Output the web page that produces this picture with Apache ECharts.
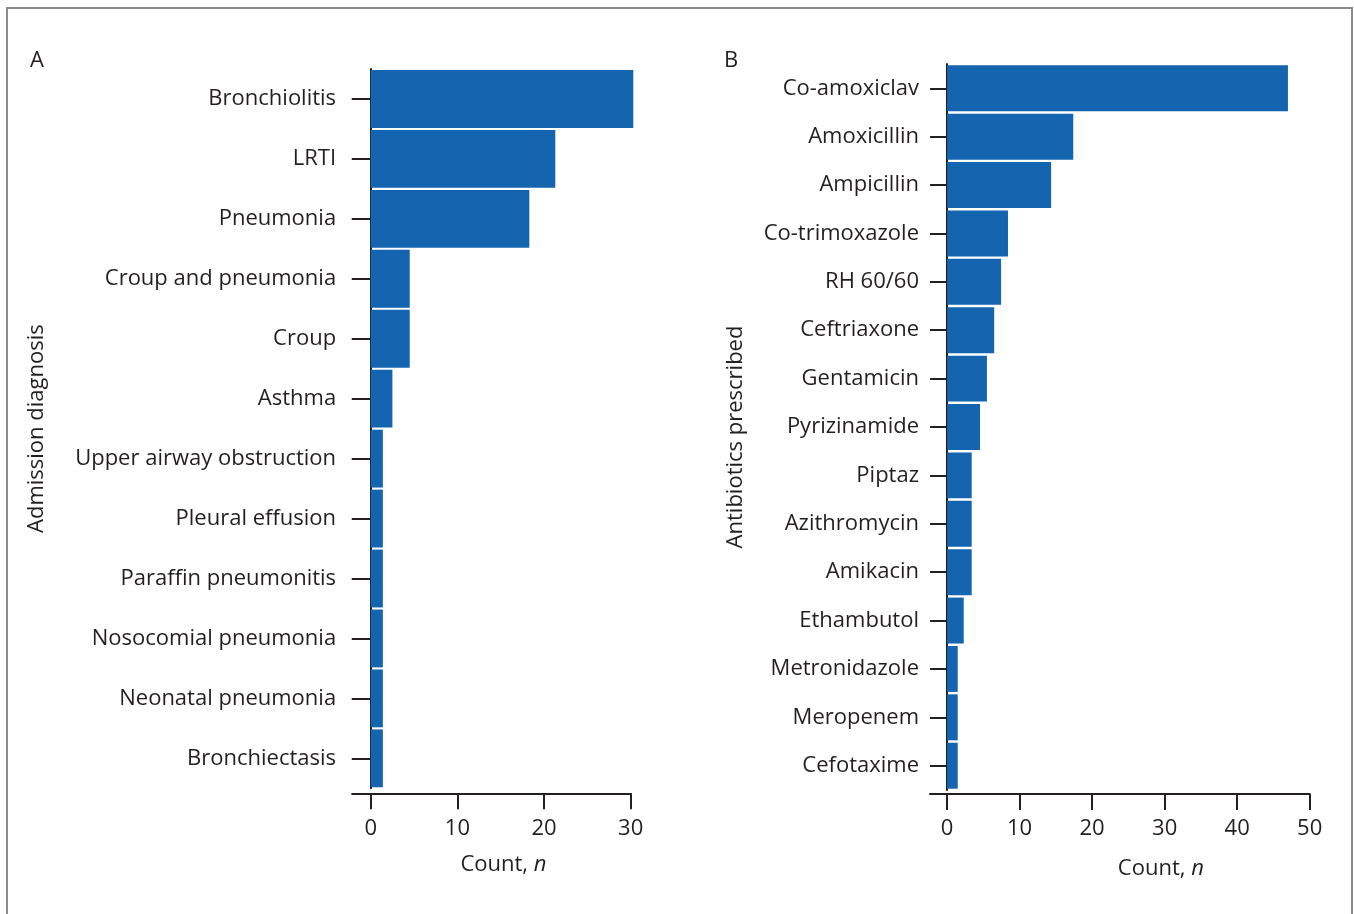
<!DOCTYPE html>
<html>
<head>
<meta charset="utf-8">
<script src="https://cdn.jsdelivr.net/npm/echarts@6/dist/echarts.min.js"></script>
<style>
html,body{margin:0;padding:0;background:#fff;}
#chart{width:1354px;height:914px;}
</style>
</head>
<body>
<div id="chart"></div>
<script>
const diagnosisCategories = ['Bronchiolitis','LRTI','Pneumonia','Croup and pneumonia','Croup','Asthma','Upper airway obstruction','Pleural effusion','Paraffin pneumonitis','Nosocomial pneumonia','Neonatal pneumonia','Bronchiectasis'];
const diagnosisCounts = [30.3, 21.3, 18.3, 4.5, 4.5, 2.5, 1.4, 1.4, 1.4, 1.4, 1.4, 1.4];
const antibioticCategories = ['Co-amoxiclav','Amoxicillin','Ampicillin','Co-trimoxazole','RH 60/60','Ceftriaxone','Gentamicin','Pyrizinamide','Piptaz','Azithromycin','Amikacin','Ethambutol','Metronidazole','Meropenem','Cefotaxime'];
const antibioticCounts = [47, 17.4, 14.35, 8.4, 7.45, 6.5, 5.5, 4.55, 3.4, 3.4, 3.4, 2.3, 1.47, 1.47, 1.47];
const ticksA = [0, 10, 20, 30];
const ticksB = [0, 10, 20, 30, 40, 50];

const ink = '#231f20';
const barColor = '#1464af';
const font = 'Open Sans';
const fs = 22;

const chart = echarts.init(document.getElementById('chart'));

function xAxisDef(gridIndex, min, max, ticks, nameGap, offset, shift) {
  return {
    type: 'value', gridIndex, min, max, offset,
    name: '{a|Count, }{b|n}', nameLocation: 'middle', nameGap,
    nameTextStyle: { padding: [0, 0, 0, shift], rich: { a: { fontFamily: font, fontSize: fs, color: ink }, b: { fontFamily: font, fontSize: fs, color: ink, fontStyle: 'italic' } } },
    axisLine: { show: true, lineStyle: { color: ink, width: 2 } },
    axisTick: { show: true, length: 16, lineStyle: { color: ink, width: 2 }, customValues: ticks },
    axisLabel: { customValues: ticks, margin: 24, color: ink, fontFamily: font, fontSize: fs },
    splitLine: { show: false }
  };
}
function yAxisDef(gridIndex, cats, name, nameGap, tickLen, margin, shift) {
  return {
    type: 'category', gridIndex, data: cats, inverse: true,
    name, nameLocation: 'middle', nameGap, nameRotate: 90,
    nameTextStyle: { fontFamily: font, fontSize: fs, color: ink, padding: [0, shift, 0, 0] },
    axisLine: { show: true, onZero: true, lineStyle: { color: ink, width: 2 } },
    axisTick: { show: true, alignWithLabel: true, length: tickLen, lineStyle: { color: ink, width: 2 } },
    axisLabel: { margin, color: ink, fontFamily: font, fontSize: fs, interval: 0 }
  };
}

chart.setOption({
  animation: false,
  backgroundColor: '#fff',
  graphic: [{
    type: 'rect', silent: true,
    shape: { x: 7, y: 8, width: 1345, height: 940 },
    style: { fill: 'none', stroke: '#8a8a8a', lineWidth: 2 }
  }],
  title: [
    { text: 'A', left: 25, top: 45, textStyle: { fontFamily: font, fontSize: fs, fontWeight: 'normal', color: ink } },
    { text: 'B', left: 719, top: 45, textStyle: { fontFamily: font, fontSize: fs, fontWeight: 'normal', color: ink } }
  ],
  grid: [
    { left: 352.1, right: 723.3, top: 69, bottom: 125.7 },
    { left: 930, right: 44.3, top: 64.1, bottom: 124.1 }
  ],
  xAxis: [
    xAxisDef(0, -2.15, 30, ticksA, 60, 5, 24),
    xAxisDef(1, -2.35, 50, ticksB, 64, 4, 82)
  ],
  yAxis: [
    yAxisDef(0, diagnosisCategories, 'Admission diagnosis', 304, 19, 16, 0),
    yAxisDef(1, antibioticCategories, 'Antibiotics prescribed', 183, 17, 11, 20)
  ],
  series: [
    { type: 'bar', xAxisIndex: 0, yAxisIndex: 0, data: diagnosisCounts, clip: false, barCategoryGap: '3.5%', itemStyle: { color: barColor } },
    { type: 'bar', xAxisIndex: 1, yAxisIndex: 1, data: antibioticCounts, clip: false, barCategoryGap: '5%', itemStyle: { color: barColor } }
  ]
});
</script>
</body>
</html>
